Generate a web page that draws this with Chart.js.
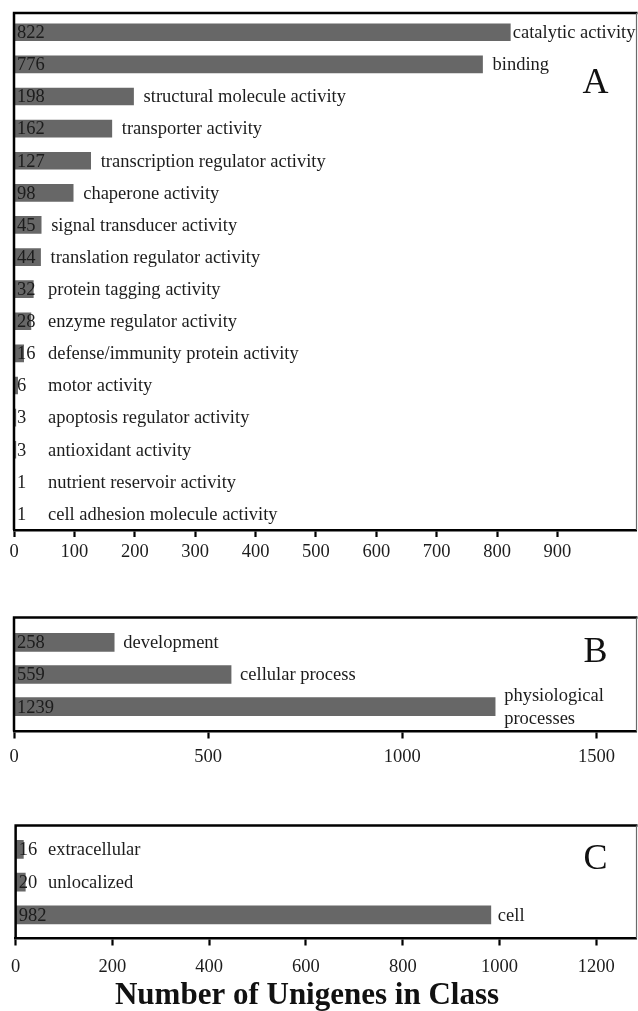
<!DOCTYPE html>
<html>
<head>
<meta charset="utf-8">
<script src="https://cdn.jsdelivr.net/npm/chart.js@4.4.1/dist/chart.umd.min.js"></script>
<style>
  html, body { margin: 0; padding: 0; background: #fff; }
  #wrap { position: relative; width: 638px; height: 1011px; overflow: hidden; }
  #wrap canvas { position: absolute; left: 0; top: 0; }
</style>
</head>
<body>
<div id="wrap">
  <canvas id="panelA" width="638" height="1011"></canvas>
  <canvas id="panelB" width="638" height="1011"></canvas>
  <canvas id="panelC" width="638" height="1011"></canvas>
</div>
<script>
// A: molecular function
const categoriesA = [
  'catalytic activity', 'binding', 'structural molecule activity', 'transporter activity',
  'transcription regulator activity', 'chaperone activity', 'signal transducer activity',
  'translation regulator activity', 'protein tagging activity', 'enzyme regulator activity',
  'defense/immunity protein activity', 'motor activity', 'apoptosis regulator activity',
  'antioxidant activity', 'nutrient reservoir activity', 'cell adhesion molecule activity'
];
const countsA = [822, 776, 198, 162, 127, 98, 45, 44, 32, 28, 16, 6, 3, 3, 1, 1];
const ticksA = [0, 100, 200, 300, 400, 500, 600, 700, 800, 900];

// B: biological process
const categoriesB = ['development', 'cellular process', ['physiological', 'processes']];
const countsB = [258, 559, 1239];
const ticksB = [0, 500, 1000, 1500];

// C: cellular component
const categoriesC = ['extracellular', 'unlocalized', 'cell'];
const countsC = [16, 20, 982];
const ticksC = [0, 200, 400, 600, 800, 1000, 1200];

const SERIF = '"Liberation Serif", "Times New Roman", serif';
const INK = '#1c1c1c';
const BAR = '#676767';
const PAGE_H = 1011;
const AXIS_H = 40;

// Value numbers, category names, frame and panel letter
const panelDecor = {
  id: 'panelDecor',
  afterDatasetsDraw(chart, args, o) {
    const { ctx, chartArea: a } = chart;
    const ds = chart.data.datasets[0];
    const meta = chart.getDatasetMeta(0);
    ctx.save();
    ctx.font = '18.5px ' + SERIF;
    ctx.fillStyle = INK;
    ctx.textBaseline = 'middle';
    ctx.textAlign = 'left';
    meta.data.forEach((bar, i) => {
      ctx.fillText(String(ds.data[i].x), a.left + 3, bar.y + 1);
      const lab = chart.data.labels[i];
      const lines = Array.isArray(lab) ? lab : [lab];
      const w = Math.max(...lines.map(l => ctx.measureText(l).width));
      let x = Math.max(bar.x + o.gap, o.minX);
      if (x + w > a.right - 1) x = a.right - 1 - w;
      lines.forEach((l, k) => {
        ctx.fillText(l, x, bar.y + 1 + (k - (lines.length - 1) / 2) * o.lineHeight);
      });
    });

    // frame: heavy top and left, light right
    ctx.strokeStyle = '#000';
    ctx.lineWidth = 2.5;
    ctx.beginPath();
    ctx.moveTo(a.left - 1.2, a.top);
    ctx.lineTo(a.right + 1, a.top);
    ctx.moveTo(a.left, a.top);
    ctx.lineTo(a.left, a.bottom);
    ctx.stroke();
    ctx.strokeStyle = '#6a6a6a';
    ctx.lineWidth = 1.2;
    ctx.beginPath();
    ctx.moveTo(a.right, a.top);
    ctx.lineTo(a.right, a.bottom);
    ctx.stroke();

    // panel letter
    ctx.font = '36px ' + SERIF;
    ctx.textBaseline = 'alphabetic';
    ctx.textAlign = 'center';
    ctx.fillStyle = '#111';
    ctx.fillText(o.letter, o.letterX, a.top + o.letterDy);

    if (o.title) {
      ctx.font = 'bold 31px ' + SERIF;
      ctx.fillText(o.title, o.titleX, o.titleY);
    }
    ctx.restore();
  }
};

function makePanel(id, categories, counts, tickValues, cfg) {
  return new Chart(document.getElementById(id), {
    type: 'bar',
    data: {
      labels: categories,
      datasets: [{
        data: counts.map((v, i) => ({ x: v, y: i })),
        backgroundColor: BAR,
        borderWidth: 0,
        barThickness: cfg.barThickness
      }]
    },
    options: {
      indexAxis: 'y',
      responsive: false,
      animation: false,
      events: [],
      layout: {
        padding: { left: 14, right: 1.5, top: cfg.top, bottom: PAGE_H - cfg.bottom - AXIS_H }
      },
      scales: {
        x: {
          type: 'linear',
          position: 'bottom',
          min: 0,
          max: cfg.xMax,
          afterFit: s => { s.height = AXIS_H; },
          afterBuildTicks: s => { s.ticks = tickValues.map(v => ({ value: v })); },
          grid: {
            drawOnChartArea: false,
            drawTicks: true,
            tickLength: 7,
            tickWidth: 2.2,
            tickColor: '#000'
          },
          border: { display: true, color: '#000', width: 2.5 },
          ticks: {
            autoSkip: false,
            maxRotation: 0,
            padding: cfg.tickPad,
            color: INK,
            font: { family: SERIF, size: 18.5 },
            callback: v => String(v)
          }
        },
        y: {
          type: 'linear',
          display: false,
          offset: false,
          grid: { offset: false },
          reverse: true,
          min: cfg.yMin,
          max: cfg.yMax
        }
      },
      plugins: {
        legend: { display: false },
        tooltip: { enabled: false },
        panelDecor: {
          gap: cfg.gap,
          minX: cfg.minX,
          lineHeight: 22.5,
          letter: cfg.letter,
          letterX: 595.5,
          letterDy: cfg.letterDy,
          title: cfg.title,
          titleX: 307,
          titleY: 1004
        }
      }
    },
    plugins: [panelDecor]
  });
}

makePanel('panelA', categoriesA, countsA, ticksA, {
  top: 13, bottom: 530, xMax: 1031, yMin: -0.6, yMax: 15.5,
  barThickness: 17, tickPad: 4, gap: 10, minX: 48, letter: 'A', letterDy: 80
});
makePanel('panelB', categoriesB, countsB, ticksB, {
  top: 617.5, bottom: 731.5, xMax: 1603, yMin: -0.77, yMax: 2.77,
  barThickness: 18, tickPad: 8, gap: 9, minX: 48, letter: 'B', letterDy: 44
});
makePanel('panelC', categoriesC, countsC, ticksC, {
  top: 825.5, bottom: 938.5, xMax: 1283, yMin: -0.73, yMax: 2.72,
  barThickness: 18, tickPad: 11, gap: 7, minX: 48, letter: 'C', letterDy: 43,
  title: 'Number of Unigenes in Class'
});
</script>
</body>
</html>
